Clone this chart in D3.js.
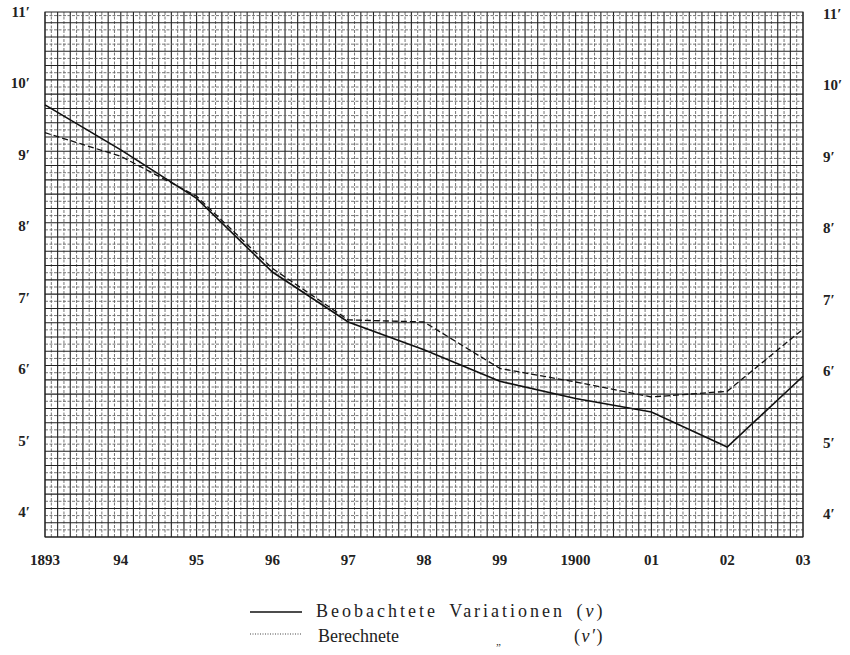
<!DOCTYPE html>
<html>
<head>
<meta charset="utf-8">
<script src="https://cdn.jsdelivr.net/npm/d3@7"></script>
</head>
<body style="margin:0">
<svg width="850" height="655"></svg>
<script>
const svg = d3.select("svg");

// DATA
const years = [1893, 1894, 1895, 1896, 1897, 1898, 1899, 1900, 1901, 1902, 1903];
const yearLabels = ["1893", "94", "95", "96", "97", "98", "99", "1900", "01", "02", "03"];
const observed = [9.70, 9.07, 8.39, 7.36, 6.66, 6.27, 5.83, 5.59, 5.40, 4.91, 5.90];
const computed = [9.31, 8.98, 8.42, 7.41, 6.69, 6.66, 6.01, 5.82, 5.61, 5.69, 6.56];
const minuteTicks = [4, 5, 6, 7, 8, 9, 10, 11];

const plotLeft = 45, plotRight = 803, plotTop = 12, plotBottom = 537;
const serif = '"Liberation Serif", monospace';

// SCALES
const x = d3.scaleLinear().domain([1893, 1903]).range([plotLeft, plotRight]);
const y = d3.scaleLinear().domain([3.65, 11]).range([plotBottom, plotTop]);

// GRID (months across, tenths of a minute up)
const grid = svg.append("g").attr("class", "grid");
const vLines = d3.range(0, 121).map(i => 1893 + i / 12);
const hLines = d3.range(0, 74).map(i => 3.65 + i * 0.1).filter(v => v <= 11.001);

grid.selectAll("line.v")
  .data(vLines)
  .enter()
  .append("line")
  .attr("class", "v")
  .attr("x1", d => x(d)).attr("x2", d => x(d))
  .attr("y1", plotTop).attr("y2", plotBottom)
  .attr("stroke", (d, i) => i % 2 === 0 ? "#222" : "#666")
  .attr("stroke-width", (d, i) => i % 2 === 0 ? 1.1 : 0.9)
  .attr("stroke-dasharray", (d, i) => i % 2 === 0 ? null : "3,1.5");

grid.selectAll("line.h")
  .data(hLines)
  .enter()
  .append("line")
  .attr("class", "h")
  .attr("x1", plotLeft).attr("x2", plotRight)
  .attr("y1", d => y(d)).attr("y2", d => y(d))
  .attr("stroke", (d, i) => i % 2 === 0 ? "#222" : "#666")
  .attr("stroke-width", (d, i) => i % 2 === 0 ? 1.1 : 0.9)
  .attr("stroke-dasharray", (d, i) => i % 2 === 0 ? null : "3,1.5");

svg.append("rect")
  .attr("x", plotLeft).attr("y", plotTop)
  .attr("width", plotRight - plotLeft).attr("height", plotBottom - plotTop)
  .attr("fill", "none")
  .attr("stroke", "#222")
  .attr("stroke-width", 1);

// LINES
const line = d3.line()
  .x((d, i) => x(years[i]))
  .y(d => y(d));

svg.append("path")
  .datum(computed)
  .attr("d", line)
  .attr("fill", "none")
  .attr("stroke", "#111")
  .attr("stroke-width", 1.3)
  .attr("stroke-dasharray", "6,3");

svg.append("path")
  .datum(observed)
  .attr("d", line)
  .attr("fill", "none")
  .attr("stroke", "#111")
  .attr("stroke-width", 1.6);

// AXIS LABELS (plain text at svg root, placed with the scales)
svg.selectAll("text.year")
  .data(years)
  .enter()
  .append("text")
  .attr("class", "year")
  .attr("x", d => x(d))
  .attr("y", plotBottom + 28)
  .attr("text-anchor", "middle")
  .style("font-family", serif)
  .style("font-size", "15px")
  .style("font-weight", "bold")
  .attr("fill", "#222")
  .text((d, i) => yearLabels[i]);

svg.selectAll("text.minL")
  .data(minuteTicks)
  .enter()
  .append("text")
  .attr("class", "minL")
  .attr("x", plotLeft - 15)
  .attr("y", d => y(d) + 5)
  .attr("text-anchor", "end")
  .style("font-family", serif)
  .style("font-size", "15px")
  .style("font-weight", "bold")
  .attr("fill", "#222")
  .text(d => d + "′");

svg.selectAll("text.minR")
  .data(minuteTicks)
  .enter()
  .append("text")
  .attr("class", "minR")
  .attr("x", plotRight + 20)
  .attr("y", d => y(d) + 7)
  .attr("text-anchor", "start")
  .style("font-family", serif)
  .style("font-size", "15px")
  .style("font-weight", "bold")
  .attr("fill", "#222")
  .text(d => d + "′");

// LEGEND
svg.append("line")
  .attr("x1", 250).attr("x2", 302)
  .attr("y1", 612).attr("y2", 612)
  .attr("stroke", "#111").attr("stroke-width", 1.5);

svg.append("line")
  .attr("x1", 250).attr("x2", 302)
  .attr("y1", 634).attr("y2", 634)
  .attr("stroke", "#444").attr("stroke-width", 1)
  .attr("stroke-dasharray", "1,1.5");

const t1 = svg.append("text")
  .attr("x", 316).attr("y", 617)
  .attr("fill", "#222")
  .style("font-family", serif)
  .style("font-size", "18px")
  .style("letter-spacing", "3px")
  .style("word-spacing", "4px");
t1.append("tspan").text("Beobachtete Variationen (");
t1.append("tspan").style("font-style", "italic").text("v");
t1.append("tspan").text(")");

svg.append("text").attr("x", 318).attr("y", 642)
  .attr("fill", "#222")
  .style("font-family", serif).style("font-size", "18px")
  .text("Berechnete");
svg.append("text").attr("x", 496).attr("y", 645)
  .attr("fill", "#222")
  .style("font-family", serif).style("font-size", "11px")
  .text("„");
const t2 = svg.append("text").attr("x", 574).attr("y", 642)
  .attr("fill", "#222")
  .style("font-family", serif).style("font-size", "18px")
  .style("letter-spacing", "1.5px");
t2.append("tspan").text("(");
t2.append("tspan").style("font-style", "italic").text("v′");
t2.append("tspan").text(")");
</script>
</body>
</html>
